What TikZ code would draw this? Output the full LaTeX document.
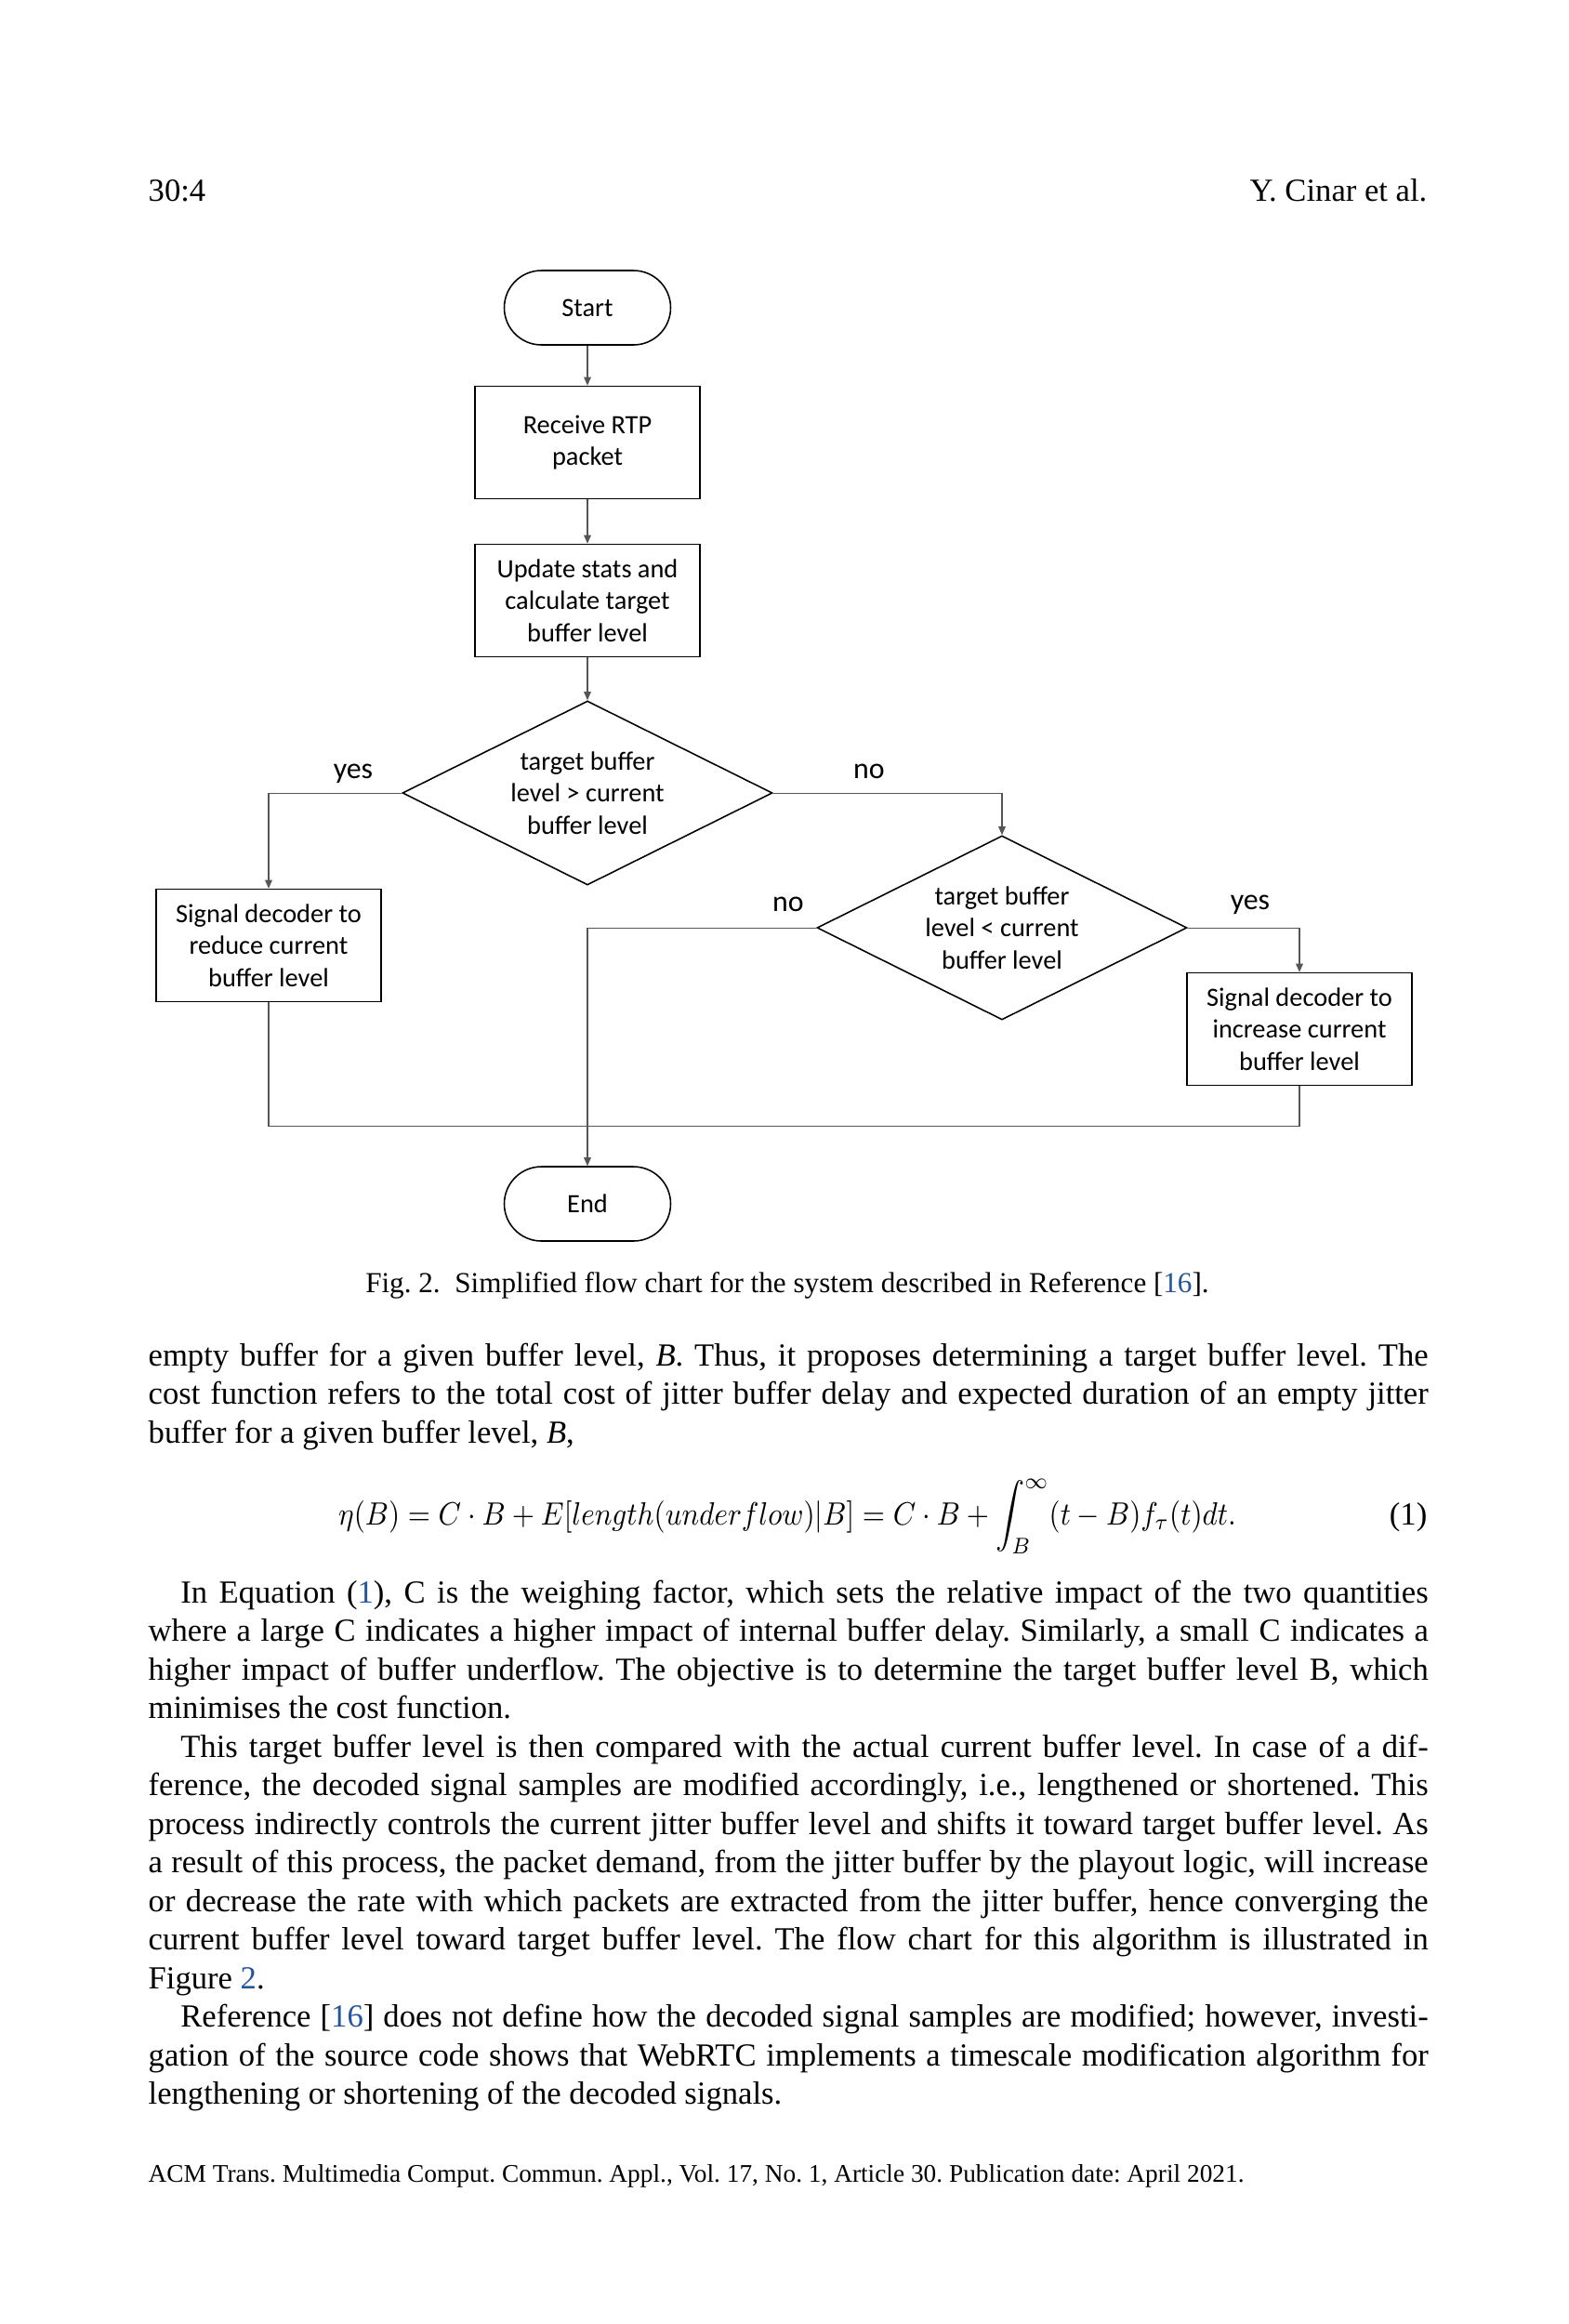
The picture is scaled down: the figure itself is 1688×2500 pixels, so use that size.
\documentclass[tikz,border=0pt]{standalone}
\usepackage{fontspec}
\usepackage{graphicx}
\setmainfont{Liberation Serif}
\newfontfamily\chartfont{Carlito}
\usetikzlibrary{arrows.meta,shapes.geometric}
\frenchspacing

\newlength{\pxu}\setlength{\pxu}{0.004in}
\definecolor{linkblue}{RGB}{35,85,155}
\definecolor{linegray}{RGB}{85,85,85}

\tikzset{
  chart/.style={font=\chartfont\fontsize{8.2}{9.9}\selectfont, align=center, inner sep=0pt},
  terminal/.style={chart, draw, line width=0.45pt, rounded corners=40\pxu, minimum width=179\pxu, minimum height=80\pxu},
  process/.style={chart, draw, line width=0.45pt, minimum width=242\pxu, minimum height=121\pxu},
  decision/.style={chart, draw, diamond, aspect=2, line width=0.45pt, minimum width=398\pxu, minimum height=198\pxu},
  answer/.style={font=\chartfont\fontsize{9.2}{11}\selectfont, inner sep=0pt},
  flow/.style={draw=linegray, line width=0.3pt, -{Triangle[length=2.6pt,width=2.2pt]}},
  joinline/.style={draw=linegray, line width=0.3pt},
  body/.style={font=\fontsize{10}{12}\selectfont, inner sep=0pt, anchor=base west, text width=1377\pxu, align=justify},
}

\begin{document}
\begin{tikzpicture}[x=1\pxu, y=-1\pxu]
\useasboundingbox[fill=white] (0,0) rectangle (1688,2500);

% running head
\node[anchor=base west, inner sep=0pt, font=\fontsize{10}{12}\selectfont] (pagenum) at (159,216) {30:4};
\node[anchor=base east, inner sep=0pt, font=\fontsize{10}{12}\selectfont] (runhead) at (1536,216) {Y. Cinar et al.};

%--------------------------------------------------------
% flow chart
\node[terminal] (start)    at (632,331)  {Start};
\node[process]  (receive)  at (632,476)  {Receive RTP\\packet};
\node[process]  (update)   at (632,646)  {Update stats and\\calculate target\\buffer level};
\node[decision] (greater)  at (632,853)  {target buffer\\level > current\\buffer level};
\node[process]  (reduce)   at (289,1017) {Signal decoder to\\reduce current\\buffer level};
\node[decision] (less)     at (1078,998) {target buffer\\level < current\\buffer level};
\node[process]  (increase) at (1398,1107) {Signal decoder to\\increase current\\buffer level};
\node[terminal] (end)      at (632,1295) {End};

\draw[flow] (start) -- (receive);
\draw[flow] (receive) -- (update);
\draw[flow] (update) -- (greater);
\draw[flow] (greater.west) -| (reduce.north);
\draw[flow] (greater.east) -| (less.north);
\draw[flow] (less.west) -| (end.north);
\draw[flow] (less.east) -| (increase.north);

\coordinate (joinleft)  at (289,1211);
\coordinate (joinright) at (1398,1211);
\draw[joinline] (reduce.south) -- (joinleft) -- (joinright) -- (increase.south);

\node[answer] (yesgreater) at (380,832) {yes};
\node[answer] (nogreater)  at (935,830) {no};
\node[answer] (noless)     at (848,973) {no};
\node[answer] (yesless)    at (1345,973) {yes};

% caption
\node[anchor=base, inner sep=0pt, font=\fontsize{9}{11}\selectfont] (caption) at (847,1390)
  {Fig.~2.\enspace Simplified flow chart for the system described in Reference [\textcolor{linkblue}{16}].};

%--------------------------------------------------------
% body text
\node[body] (parafirst) at (159,1469) {empty buffer for a given buffer level, \textit{B}. Thus, it proposes determining a target buffer level. The\linebreak
cost function refers to the total cost of jitter buffer delay and expected duration of an empty jitter\linebreak
buffer for a given buffer level, \textit{B},};

\node[anchor=base, inner sep=0pt, font=\fontsize{10}{12}\selectfont] (costeq) at (847,1640)
  {\scalebox{0.9}[1]{$\displaystyle \eta(B) = C\cdot B + E[length(underflow)|B] = C\cdot B + \int_B^{\infty} (t-B) f_\tau(t)dt.$}};
\node[anchor=base east, inner sep=0pt, font=\fontsize{10}{12}\selectfont] (eqnum) at (1536,1640) {(1)};

\node[body] (pararest) at (159,1724) {\hspace*{10pt}In Equation (\textcolor{linkblue}{1}), C is the weighing factor, which sets the relative impact of the two quantities\linebreak
where a large C indicates a higher impact of internal buffer delay. Similarly, a small C indicates a\linebreak
higher impact of buffer underflow. The objective is to determine the target buffer level B, which\linebreak
minimises the cost function.\par
\hspace*{10pt}This target buffer level is then compared with the actual current buffer level. In case of a dif-\linebreak
ference, the decoded signal samples are modified accordingly, i.e., lengthened or shortened. This\linebreak
process indirectly controls the current jitter buffer level and shifts it toward target buffer level. As\linebreak
a result of this process, the packet demand, from the jitter buffer by the playout logic, will increase\linebreak
or decrease the rate with which packets are extracted from the jitter buffer, hence converging the\linebreak
current buffer level toward target buffer level. The flow chart for this algorithm is illustrated in\linebreak
Figure \textcolor{linkblue}{2}.\par
\hspace*{10pt}Reference [\textcolor{linkblue}{16}] does not define how the decoded signal samples are modified; however, investi-\linebreak
gation of the source code shows that WebRTC implements a timescale modification algorithm for\linebreak
lengthening or shortening of the decoded signals.};

% running foot
\node[anchor=base west, inner sep=0pt, font=\fontsize{7.9}{10}\selectfont] (runfoot) at (159,2347)
  {ACM Trans. Multimedia Comput. Commun. Appl., Vol. 17, No. 1, Article 30. Publication date: April 2021.};
\end{tikzpicture}
\end{document}
